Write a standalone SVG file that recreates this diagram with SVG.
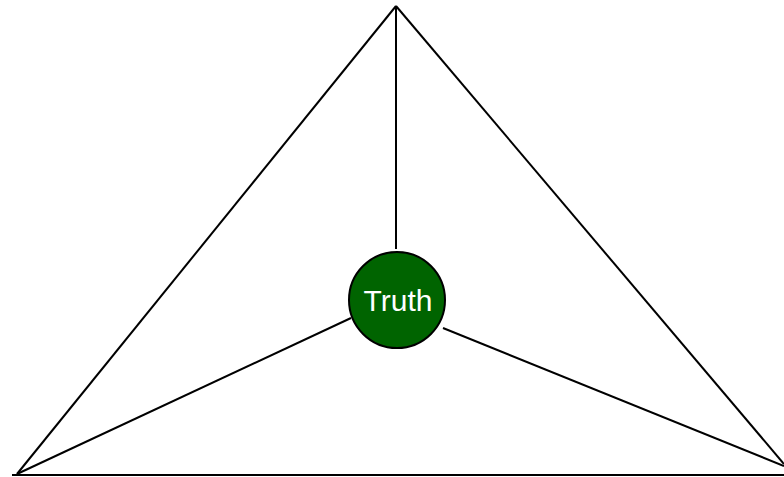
<svg xmlns="http://www.w3.org/2000/svg" width="784" height="477" viewBox="0 0 784 477">
<style>
.ln{stroke:#000;stroke-width:2;fill:none}
.nd{fill:#006400;stroke:#000;stroke-width:2}
.lb{font-family:"Liberation Sans",Arial,sans-serif;font-size:30px;fill:#fff;text-anchor:middle}
</style>
<rect width="784" height="477" fill="#fff"/>
<g id="connectors">
<line class="ln" x1="396" y1="6" x2="17" y2="474"/>
<line class="ln" x1="396" y1="6" x2="784" y2="464"/>
<line class="ln" x1="396" y1="6" x2="396" y2="249"/>
<line class="ln" x1="12" y1="475" x2="784" y2="475"/>
<line class="ln" x1="17" y1="474" x2="351" y2="318"/>
<line class="ln" x1="443" y1="328" x2="784" y2="466"/>
</g>
<g id="truth">
<circle class="nd" cx="397" cy="300" r="48"/>
<text class="lb" x="398" y="311">Truth</text>
</g>
</svg>
